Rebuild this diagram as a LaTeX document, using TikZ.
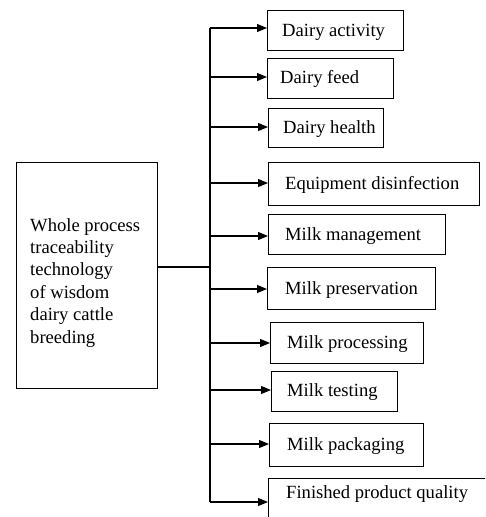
\documentclass[tikz,border=0pt]{standalone}
\usepackage{fontspec}
\setmainfont{Liberation Serif}
\usetikzlibrary{arrows.meta}
\begin{document}
\begin{tikzpicture}[x=1pt,y=-1pt,
  box/.style={draw, line width=1.3pt, inner sep=0pt, anchor=north west},
  lbl/.style={anchor=west, inner sep=0pt, font=\fontsize{18.6}{22.4}\selectfont},
  conn/.style={line width=1.1pt},
  arr/.style={conn, -{Triangle[length=10pt,width=8pt]}}]
\useasboundingbox (0,0) rectangle (485,517);
\clip (0,0) rectangle (485,517);
% main box
\node[box, minimum width=141pt, minimum height=226pt] (main) at (16,162) {};
\node[lbl, align=left, anchor=north west] (maintxt) at (30,218)
  {Whole process\\traceability\\technology\\of wisdom\\dairy cattle\\breeding};
% branch boxes
\node[box, minimum width=136pt, minimum height=40pt] (b1) at (267,10) {};
\node[box, minimum width=126pt, minimum height=40pt] (b2) at (267,58) {};
\node[box, minimum width=115pt, minimum height=39pt] (b3) at (268,108) {};
\node[box, minimum width=211pt, minimum height=43pt] (b4) at (268,162) {};
\node[box, minimum width=177pt, minimum height=40pt] (b5) at (268,214) {};
\node[box, minimum width=168pt, minimum height=42pt] (b6) at (267,267) {};
\node[box, minimum width=153pt, minimum height=41pt] (b7) at (270,322) {};
\node[box, minimum width=126pt, minimum height=40pt] (b8) at (271,371) {};
\node[box, minimum width=154pt, minimum height=43pt] (b9) at (269,423) {};
\node[box, minimum width=226pt, minimum height=48pt] (b10) at (268,478) {};
% labels
\node[lbl] (t1) at (282,32) {Dairy activity};
\node[lbl] (t2) at (280,79) {Dairy feed};
\node[lbl] (t3) at (283,129) {Dairy health};
\node[lbl] (t4) at (285,185) {Equipment disinfection};
\node[lbl] (t5) at (285,236) {Milk management};
\node[lbl] (t6) at (285,290) {Milk preservation};
\node[lbl] (t7) at (287,344) {Milk processing};
\node[lbl] (t8) at (287,392) {Milk testing};
\node[lbl] (t9) at (287,446) {Milk packaging};
\node[lbl] (t10) at (286,494) {Finished product quality};
% trunk
\coordinate (top) at (210,28);
\coordinate (bot) at (210,502);
\coordinate (junc) at (210,267);
\draw[conn] (main.east |- junc) -- (junc);
\draw[conn] (top) -- (bot);
% arrows
\foreach \i/\yy in {1/28,2/77,3/127,4/183,5/236,6/289,7/343,8/390,9/444,10/502}{
  \draw[arr] (210,\yy) -- (b\i.west |- 0,\yy);
}
\end{tikzpicture}
\end{document}
